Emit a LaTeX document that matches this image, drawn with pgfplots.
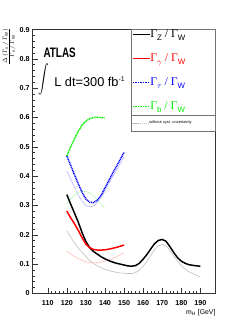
\documentclass[border=0pt]{standalone}
\usepackage{pgfplots}
\pgfplotsset{compat=1.18}
\usepackage{fontspec}
\setmainfont{Liberation Sans}
\newfontfamily\serif{Liberation Serif}
\definecolor{lgray}{RGB}{190,190,190}
\definecolor{lred}{RGB}{255,185,185}
\definecolor{lblue}{RGB}{170,170,255}
\definecolor{lgreen}{RGB}{170,250,170}
\definecolor{cgreen}{RGB}{0,240,0}
\newcommand{\GR}[1]{{\serif\fontsize{12}{12}\selectfont \char"0393}\raisebox{-2.5bp}{\fontsize{8}{8}\selectfont #1}}
\newcommand{\ENT}[1]{\GR{#1}{\serif\fontsize{12}{12}\selectfont\ /\ }\GR{W}}
\pgfplotsset{common/.style={
  scale only axis, width=186bp, height=268bp,
  xmin=102, xmax=198, ymin=0, ymax=0.9,
  legend cell align=left,
  legend image code/.code={\draw[##1] (0bp,0bp) -- (17bp,0bp);},
}}
\begin{document}
\begin{tikzpicture}
\path[use as bounding box] (-33bp,-30bp) rectangle (216bp,298bp);
\begin{axis}[
  common,
  xtick={110,120,130,140,150,160,170,180,190},
  ytick={0,0.1,0.2,0.3,0.4,0.5,0.6,0.7,0.8,0.9},
  minor x tick num=4, minor y tick num=4,
  tick align=inside, xtick pos=bottom, ytick pos=left,
  major tick length=6bp, minor tick length=3bp,
  axis line style={black!80, line width=0.6bp},
  tick style={black!80, line width=0.5bp},
  /pgf/number format/assume math mode=true,
  tick label style={font=\fontsize{7.3}{8}\selectfont\bfseries},
  yticklabel style={/pgf/number format/fixed, /pgf/number format/precision=1, xshift=0.5bp},
  xticklabel style={yshift=-4bp},
  clip=false,
  legend style={at={(rel axis cs:0.543,0.999)}, anchor=north west, draw=none, fill=none,
    inner sep=0pt, row sep=15bp, nodes={inner sep=0pt}},
]
% without syst. uncertainty (light)
\addplot[lgray, line width=0.6bp, forget plot] coordinates {
(120,0.214) (122,0.192) (124,0.172) (126,0.155) (128,0.140) (130,0.126) (132,0.112) (134,0.102) (136,0.094) (138,0.088) (140,0.082) (142,0.078) (144,0.075) (146,0.072) (148,0.070) (150,0.069) (152,0.068) (154,0.068) (156,0.071) (158,0.079) (160,0.093) (162,0.110) (164,0.130) (166,0.150) (168,0.163) (170,0.167) (172,0.162) (174,0.147) (176,0.128) (178,0.110) (180,0.095) (182,0.083) (184,0.074) (186,0.068) (188,0.062) (190,0.056)};
\addplot[lred, line width=0.6bp, forget plot] coordinates {
(120,0.144) (122,0.135) (124,0.126) (126,0.119) (128,0.113) (130,0.108) (132,0.105) (134,0.104) (136,0.105) (138,0.107) (140,0.110) (142,0.114) (144,0.119) (146,0.125) (148,0.132) (150,0.139)};
\addplot[lblue, line width=0.8bp, dash pattern=on 0.8bp off 0.6bp, forget plot] coordinates {
(120,0.418) (122,0.390) (124,0.362) (126,0.336) (128,0.314) (130,0.300) (132,0.295) (134,0.298) (136,0.310) (138,0.328) (140,0.350) (142,0.374) (144,0.398) (146,0.420) (148,0.443) (150,0.466)};
\addplot[lgreen, line width=0.8bp, dash pattern=on 0.8bp off 0.6bp, forget plot] coordinates {
(120,0.306) (122,0.322) (124,0.335) (126,0.344) (128,0.348) (130,0.348) (132,0.343) (134,0.333) (136,0.318) (138,0.303) (140,0.290)};
% main curves
\addplot[black, line width=1.5bp] coordinates {
(120,0.337) (122,0.305) (124,0.274) (126,0.243) (128,0.207) (130,0.177) (132,0.156) (134,0.143) (136,0.134) (138,0.125) (140,0.118) (142,0.112) (144,0.107) (146,0.103) (148,0.100) (150,0.097) (152,0.094) (154,0.093) (156,0.095) (158,0.103) (160,0.117) (162,0.133) (164,0.152) (166,0.170) (168,0.181) (170,0.184) (172,0.178) (174,0.160) (176,0.140) (178,0.122) (180,0.110) (182,0.103) (184,0.098) (186,0.096) (188,0.094) (190,0.093)};
\addlegendentry{\ENT{Z}}
\addplot[red, line width=1.5bp] coordinates {
(120,0.281) (122,0.258) (124,0.238) (126,0.215) (128,0.190) (130,0.168) (132,0.156) (134,0.150) (136,0.148) (138,0.148) (140,0.149) (142,0.151) (144,0.154) (146,0.157) (148,0.161) (150,0.165)};
\addlegendentry{\textcolor{red}{\ENT{$\gamma$}}}
\addplot[blue, line width=1.5bp, dash pattern=on 1bp off 0.7bp] coordinates {
(120,0.469) (122,0.437) (124,0.405) (126,0.374) (128,0.345) (130,0.322) (132,0.311) (134,0.310) (136,0.318) (138,0.335) (140,0.360) (142,0.385) (144,0.410) (146,0.433) (148,0.457) (150,0.482)};
\addlegendentry{\textcolor{blue}{\ENT{$\tau$}}}
\addplot[cgreen, line width=1.5bp, dash pattern=on 1bp off 0.7bp] coordinates {
(120,0.469) (122,0.500) (124,0.527) (126,0.553) (128,0.574) (130,0.588) (132,0.596) (134,0.600) (136,0.601) (138,0.600) (140,0.600)};
\addlegendentry{\textcolor{cgreen}{\ENT{b}}}
\draw[black!55, line width=0.5bp] (rel axis cs:0.538,0.6157) rectangle (rel axis cs:1,1);
\draw[black!55, line width=0.5bp] (rel axis cs:0.538,0.6735) -- (rel axis cs:1,0.6735);
\end{axis}
\begin{axis}[
  common, hide axis,
  legend style={at={(rel axis cs:0.543,0.645)}, anchor=west, draw=none, fill=none,
    inner sep=0pt, nodes={inner sep=0pt}},
]
\addlegendimage{lgray, line width=0.5bp, dash pattern=on 1.2bp off 0.8bp}
\addlegendentry{\fontsize{4}{4}\selectfont without syst. uncertainty}
\end{axis}
\node[anchor=base west, inner sep=0pt] at (11bp,240bp) {\scalebox{0.72}[1]{\fontsize{14}{14}\selectfont\bfseries ATLAS}};
\node[inner sep=0pt] at (12bp,217bp) {\scalebox{1.1}[1.45]{$\displaystyle\int$}};
\node[anchor=base west, inner sep=0pt] at (22bp,210bp) {\fontsize{13}{13}\selectfont L dt=300 fb\raisebox{5bp}{\fontsize{7}{7}\selectfont -1}};
\node[rotate=90, anchor=east, inner sep=0pt] at (-24bp,270bp) {\fontsize{8.5}{9}\selectfont $\frac{\Delta\,(\Gamma_{\mathrm{x}}\,/\,\Gamma_{\mathrm{W}})}{\Gamma_{\mathrm{x}}\,/\,\Gamma_{\mathrm{W}}}$};
\node[anchor=east, inner sep=0pt] at (186bp,-20bp) {\fontsize{7}{8}\selectfont m\textsubscript{H} [GeV]};
\end{tikzpicture}
\end{document}
